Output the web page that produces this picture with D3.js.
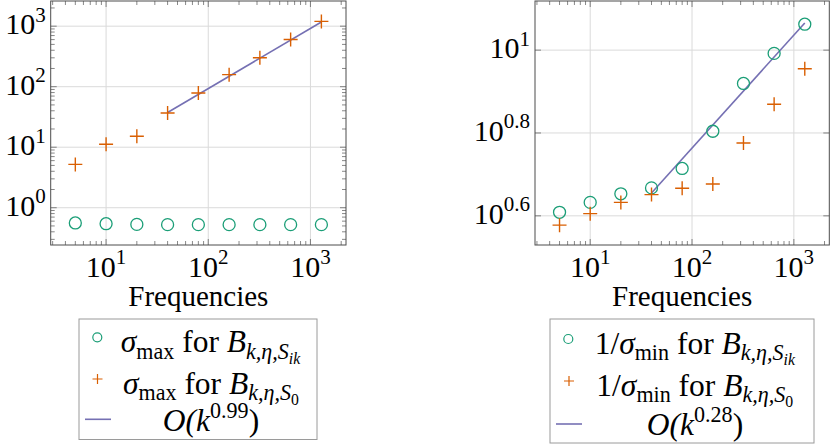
<!DOCTYPE html>
<html><head><meta charset="utf-8">
<script src="https://cdn.jsdelivr.net/npm/d3@7"></script>
<style>body{margin:0;background:#fff} svg{display:block} svg text, svg tspan{font-family:"Liberation Serif","DejaVu Serif","Noto Serif",serif !important;}</style>
</head><body>
<svg id="c" width="830" height="444"></svg>
<script>
// ---------- data ----------
const freq = [5, 10, 20, 40, 80, 160, 320, 640, 1280];
const sigmaMaxSik = [0.56, 0.545, 0.53, 0.525, 0.525, 0.525, 0.525, 0.525, 0.525];
const sigmaMaxS0 = [5.2, 11.2, 15.2, 36.7, 78.5, 158, 300, 601, 1200];
const fitMaxK = [40, 1280];
const fitMaxVal = [37.5, 1170];
const invMinSik = [4.06, 4.29, 4.50, 4.65, 5.18, 6.37, 8.31, 9.82, 11.55];
const invMinS0 = [3.78, 4.03, 4.29, 4.48, 4.64, 4.75, 5.97, 7.40, 9.02];
const fitMinK = [40, 1280];
const fitMinVal = [4.52, 11.63];
const xTickExp = ["1", "2", "3"];
const yTickExpLeft = ["0", "1", "2", "3"];
const yTickExpRight = ["0.6", "0.8", "1"];
const xLabel = "Frequencies";

const GREEN = "#1b9e77", ORANGE = "#d95f02", PURPLE = "#7570b3";
const svg = d3.select("#c");
const FS = 30;

function newText(parent, x, y, size, anchor) {
  return parent.append("text").attr("x", x).attr("y", y).attr("text-anchor", anchor)
    .attr("font-size", size).attr("fill", "#000").style("white-space", "pre");
}
function tickLabel(g, x, y, exp, anchor) {
  const t = newText(g, x, y, FS, anchor);
  t.append("tspan").text("10");
  t.append("tspan").attr("dy", -0.42 * FS).attr("font-size", 0.7 * FS).text(exp);
}

function panel(cfg) {
  const g = svg.append("g");
  const x = d3.scaleLog().domain(cfg.xd).range([cfg.x0, cfg.x1]);
  const y = d3.scaleLog().domain(cfg.yd).range([cfg.y1, cfg.y0]);
  const xMaj = xTickExp.map(e => Math.pow(10, +e));
  const yMaj = cfg.yExp.map(e => Math.pow(10, +e));
  g.selectAll(".gx").data(xMaj).join("line")
    .attr("x1", d => x(d)).attr("x2", d => x(d)).attr("y1", cfg.y0).attr("y2", cfg.y1)
    .attr("stroke", "#dadada").attr("stroke-width", 1);
  g.selectAll(".gy").data(yMaj).join("line")
    .attr("y1", d => y(d)).attr("y2", d => y(d)).attr("x1", cfg.x0).attr("x2", cfg.x1)
    .attr("stroke", "#dadada").attr("stroke-width", 1);
  const minor = (dom) => {
    const out = [];
    for (let e = -2; e <= 4; e++) for (let m = 2; m <= 9; m++) {
      const v = m * Math.pow(10, e);
      if (v > dom[0] && v < dom[1]) out.push(v);
    }
    return out;
  };
  const tk = "#555";
  const vt = (v, len) => {
    g.append("line").attr("x1", x(v)).attr("x2", x(v)).attr("y1", cfg.y1).attr("y2", cfg.y1 - len).attr("stroke", tk).attr("stroke-width", 0.7);
    g.append("line").attr("x1", x(v)).attr("x2", x(v)).attr("y1", cfg.y0).attr("y2", cfg.y0 + len).attr("stroke", tk).attr("stroke-width", 0.7);
  };
  const ht = (v, len) => {
    g.append("line").attr("y1", y(v)).attr("y2", y(v)).attr("x1", cfg.x0).attr("x2", cfg.x0 + len).attr("stroke", tk).attr("stroke-width", 0.7);
    g.append("line").attr("y1", y(v)).attr("y2", y(v)).attr("x1", cfg.x1).attr("x2", cfg.x1 - len).attr("stroke", tk).attr("stroke-width", 0.7);
  };
  minor(cfg.xd).forEach(v => vt(v, 4));
  xMaj.forEach(v => vt(v, 6));
  if (cfg.yMinor) minor(cfg.yd).forEach(v => ht(v, 4));
  yMaj.forEach(v => ht(v, 6));
  const line = d3.line().x(d => x(d[0])).y(d => y(d[1]));
  g.append("path").attr("d", line(cfg.fitK.map((k, i) => [k, cfg.fitV[i]])))
    .attr("fill", "none").attr("stroke", PURPLE).attr("stroke-width", 1.6);
  g.selectAll(".c").data(freq.map((k, i) => [k, cfg.circ[i]])).join("circle")
    .attr("cx", d => x(d[0])).attr("cy", d => y(d[1])).attr("r", 6)
    .attr("fill", "none").attr("stroke", GREEN).attr("stroke-width", 1.3);
  g.selectAll(".p").data(freq.map((k, i) => [k, cfg.plus[i]])).join("path")
    .attr("d", d => { const px = x(d[0]), py = y(d[1]); return `M${px - 7},${py}H${px + 7}M${px},${py - 7}V${py + 7}`; })
    .attr("stroke", ORANGE).attr("stroke-width", 1.4).attr("fill", "none");
  g.append("rect").attr("x", cfg.x0).attr("y", cfg.y0).attr("width", cfg.x1 - cfg.x0).attr("height", cfg.y1 - cfg.y0)
    .attr("fill", "none").attr("stroke", "#4d4d4d").attr("stroke-width", 1);
  xTickExp.forEach((e, i) => tickLabel(g, x(xMaj[i]), 277, e, "middle"));
  cfg.yExp.forEach((e, i) => tickLabel(g, cfg.x0 - 5, y(yMaj[i]) + 8, e, "end"));
  newText(g, (cfg.x0 + cfg.x1) / 2, 306, 29, "middle").text(xLabel);
}

panel({ x0: 50.7, x1: 346, y0: 1, y1: 245, xd: [Math.pow(10, 0.458), Math.pow(10, 3.348)],
  yd: [Math.pow(10, -0.616), Math.pow(10, 3.416)], yExp: yTickExpLeft, yMinor: true,
  circ: sigmaMaxSik, plus: sigmaMaxS0, fitK: fitMaxK, fitV: fitMaxVal });
panel({ x0: 535, x1: 829.3, y0: 1, y1: 245, xd: [Math.pow(10, 0.458), Math.pow(10, 3.348)],
  yd: [Math.pow(10, 0.5296), Math.pow(10, 1.1186)], yExp: yTickExpRight, yMinor: false,
  circ: invMinSik, plus: invMinS0, fitK: fitMinK, fitV: fitMinVal });

// ---------- legends ----------
const LS = 31.5;
function mathText(cx, base, segs) {
  const t = newText(svg, 0, base, LS, "start");
  let cur = 0;
  segs.forEach(s => {
    const lvl = s[2] || 0;
    const sz = lvl === 0 ? LS : (lvl === 2 ? 0.5 * LS : 0.7 * LS);
    const off = lvl === 0 ? 0 : lvl === 1 ? 0.22 * LS : lvl === 2 ? 0.38 * LS : -0.42 * LS;
    t.append("tspan").attr("dy", off - cur).attr("font-size", sz)
      .attr("font-style", s[1] === "i" ? "italic" : "normal").text(s[0]);
    cur = off;
  });
  const w = t.node().getBBox().width;
  t.attr("x", cx - w / 2);
}
function legend(bx, by, bw, bh, rows) {
  svg.append("rect").attr("x", bx).attr("y", by).attr("width", bw).attr("height", bh)
    .attr("fill", "#fff").attr("stroke", "#9a9a9a").attr("stroke-width", 1);
  rows.forEach(r => {
    if (r.kind === "c") svg.append("circle").attr("cx", r.mx).attr("cy", r.my).attr("r", 4.5).attr("fill", "none").attr("stroke", GREEN).attr("stroke-width", 1.2);
    if (r.kind === "p") svg.append("path").attr("d", `M${r.mx - 5},${r.my}H${r.mx + 5}M${r.mx},${r.my - 5}V${r.my + 5}`).attr("stroke", ORANGE).attr("stroke-width", 1.2);
    if (r.kind === "l") svg.append("line").attr("x1", r.mx - 13).attr("x2", r.mx + 13).attr("y1", r.my).attr("y2", r.my).attr("stroke", PURPLE).attr("stroke-width", 1.6);
    mathText(r.tx, r.ty, r.segs);
  });
}
const bSik = [["B", "i"], ["k,η,S", "i", 1], ["ik", "i", 2]];
const bS0 = [["B", "i"], ["k,η,S", "i", 1], ["0", "r", 2]];
legend(79, 319, 238, 120.5, [
  { kind: "c", mx: 97.3, my: 337.3, tx: 211, ty: 352, segs: [["σ", "i"], ["max", "r", 1], [" for ", "r"]].concat(bSik) },
  { kind: "p", mx: 97.5, my: 379, tx: 211, ty: 393.5, segs: [["σ", "i"], ["max", "r", 1], [" for ", "r"]].concat(bS0) },
  { kind: "l", mx: 98, my: 419.3, tx: 211, ty: 431, segs: [["O(", "i"], ["k", "i"], ["0.99", "r", -1], [")", "r"]] }
]);
legend(550, 319, 264, 124, [
  { kind: "c", mx: 568.3, my: 339, tx: 695.3, ty: 353.5, segs: [["1/", "r"], ["σ", "i"], ["min", "r", 1], [" for ", "r"]].concat(bSik) },
  { kind: "p", mx: 569, my: 381, tx: 694.8, ty: 395.5, segs: [["1/", "r"], ["σ", "i"], ["min", "r", 1], [" for ", "r"]].concat(bS0) },
  { kind: "l", mx: 569, my: 424, tx: 695, ty: 435, segs: [["O(", "i"], ["k", "i"], ["0.28", "r", -1], [")", "r"]] }
]);
</script>
</body></html>
